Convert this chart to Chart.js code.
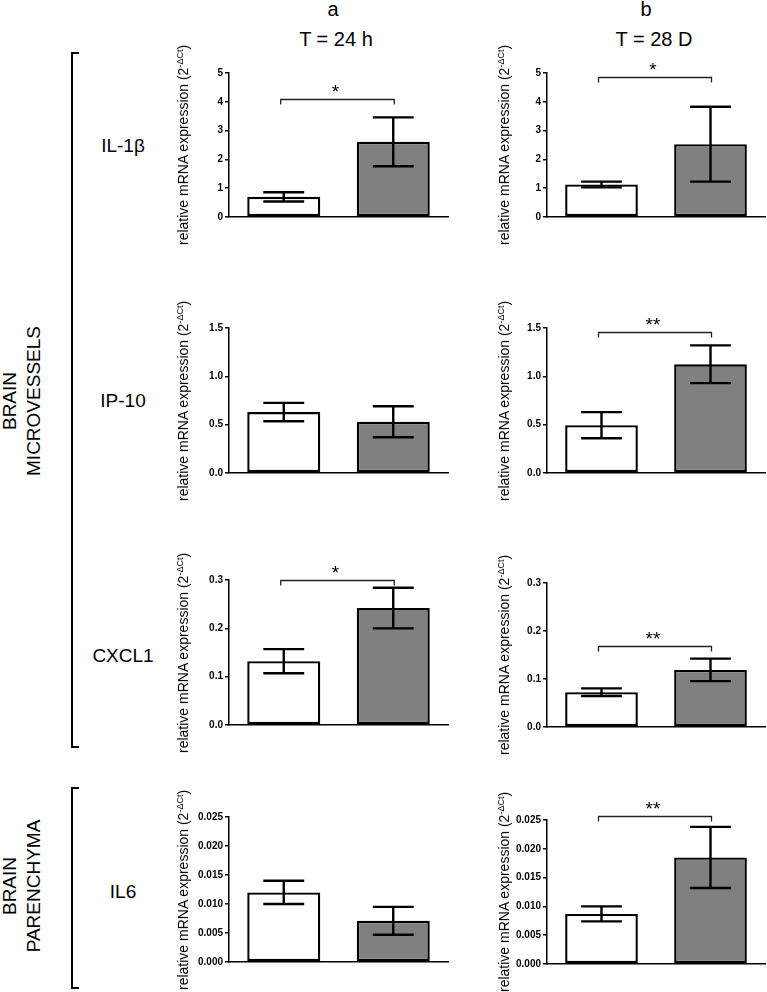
<!DOCTYPE html>
<html>
<head>
<meta charset="utf-8">
<script src="https://cdn.jsdelivr.net/npm/chart.js@4.4.0/dist/chart.umd.min.js"></script>
<style>
  body { margin: 0; width: 767px; height: 992px; position: relative; background: #fff;
         font-family: "Liberation Sans", Arial, sans-serif; color: #000; overflow: hidden; }
  .lbl { position: absolute; transform: translate(-50%, -50%); line-height: 1; white-space: nowrap; }
  .rot { position: absolute; transform: translate(-50%, -50%) rotate(-90deg); white-space: nowrap; text-align: center; }
  .ytitle { font-size: 14px; line-height: 1; }
  .ytitle sup { font-size: 9px; vertical-align: 5px; line-height: 0; }
  .group { font-size: 19px; line-height: 24px; }
  .bracket { position: absolute; border: 2px solid #000; border-right: none; width: 8px; box-sizing: border-box; }
  canvas { position: absolute; }
</style>
</head>
<body>
<div class="bracket" style="left:71px; top:52px; height:696px;"></div>
<div class="bracket" style="left:71px; top:787px; height:202px;"></div>
<div class="rot group" style="left:22px; top:401px;">BRAIN<br>MICROVESSELS</div>
<div class="rot group" style="left:22px; top:886px;">BRAIN<br>PARENCHYMA</div>

<script>
// gene rows, time point columns
const genes = ['IL-1β', 'IP-10', 'CXCL1', 'IL6'];
const panelLetters = ['a', 'b'];
const timePoints = ['T = 24 h', 'T = 28 D'];
const groups = ['control', 'treated'];

// mean and error per gene: [control, treated]
const means24h  = [[0.70, 2.61], [0.63, 0.53], [0.132, 0.242], [0.0120, 0.0071]];
const errors24h = [[0.16, 0.85], [0.095, 0.16], [0.025, 0.042], [0.0020, 0.0024]];
const means28d  = [[1.13, 2.53], [0.495, 1.125], [0.0725, 0.119], [0.0087, 0.0185]];
const errors28d = [[0.10, 1.30], [0.135, 0.195], [0.008, 0.0235], [0.0013, 0.0053]];

// significance marks and the value where the bracket sits
const sigMarks24h  = ['*', '', '*', ''];
const sigLevels24h = [4.1, null, 0.30, null];
const sigMarks28d  = ['*', '**', '**', '**'];
const sigLevels28d = [4.85, 1.455, 0.169, 0.0257];

// y axis per gene
const yMaxes = [5, 1.5, 0.3, 0.025];
const ySteps = [1, 0.5, 0.1, 0.005];
const yDecimals = [0, 1, 1, 3];

// layout (page pixels)
const plotLeft = [229, 547];
const plotRight = [448, 765];
const plotTop = [[73, 328, 580, 817], [73, 328, 583, 820]];
const plotBottom = [[217, 473, 725, 962], [217, 473, 727, 964]];
const letterX = [333, 646];
const timeX = [336, 654];
const titleX = [183, 504];
const geneY = [145, 400, 655, 891];

function addLabel(html, cls, x, y, css) {
    const d = document.createElement('div');
    d.className = cls;
    d.innerHTML = html;
    d.style.left = x + 'px';
    d.style.top = y + 'px';
    if (css) d.style.cssText += css;
    document.body.appendChild(d);
}

for (let c = 0; c < 2; c++) {
    addLabel(panelLetters[c], 'lbl', letterX[c], 9, 'font-size:20px;');
    addLabel(timePoints[c], 'lbl', timeX[c], 39, 'font-size:20px;');
}
for (let r = 0; r < genes.length; r++) {
    addLabel(genes[r], 'lbl', 123, geneY[r], 'font-size:19px;');
}

function makeOverlay(errors, sigLevel, sigMark) {
    return {
        id: 'overlay',
        afterDatasetsDraw(chart) {
            const ctx = chart.ctx;
            const xs = chart.scales.x;
            const ys = chart.scales.y;
            const meta = chart.getDatasetMeta(0);
            const means = chart.data.datasets[0].data;
            ctx.save();
            ctx.strokeStyle = '#000';
            ctx.lineWidth = 2.4;
            meta.data.forEach((bar, i) => {
                const x = bar.x;
                const half = bar.width * 0.28;
                const yHi = ys.getPixelForValue(means[i] + errors[i]);
                const yLo = ys.getPixelForValue(means[i] - errors[i]);
                ctx.beginPath();
                ctx.moveTo(x, yHi); ctx.lineTo(x, yLo);
                ctx.moveTo(x - half, yHi); ctx.lineTo(x + half, yHi);
                ctx.moveTo(x - half, yLo); ctx.lineTo(x + half, yLo);
                ctx.stroke();
            });
            if (sigLevel !== null) {
                const x1 = xs.getPixelForValue(0) - 3;
                const x2 = xs.getPixelForValue(1) + 1;
                const y = Math.round(ys.getPixelForValue(sigLevel)) + 0.5;
                ctx.lineWidth = 1.3;
                ctx.strokeStyle = '#222';
                ctx.beginPath();
                ctx.moveTo(x1, y + 5); ctx.lineTo(x1, y); ctx.lineTo(x2, y); ctx.lineTo(x2, y + 5);
                ctx.stroke();
                ctx.fillStyle = '#000';
                ctx.font = '19px "Liberation Sans", Arial, sans-serif';
                ctx.textAlign = 'center';
                ctx.textBaseline = 'alphabetic';
                ctx.fillText(sigMark, (x1 + x2) / 2 - 2, y - 2);
            }
            ctx.restore();
        }
    };
}

function drawPanel(col, row, means, errors, sigLevel, sigMark) {
    const L = plotLeft[col], R = plotRight[col];
    const T = plotTop[col][row], B = plotBottom[col][row];
    const cx = L - 50, cy = T - 50;
    const w = R - L + 52, h = B - T + 62;
    const canvas = document.createElement('canvas');
    canvas.width = w;
    canvas.height = h;
    canvas.style.left = cx + 'px';
    canvas.style.top = cy + 'px';
    document.body.appendChild(canvas);

    addLabel('relative mRNA expression (2<sup>-ΔCt</sup>)', 'rot ytitle', titleX[col], (T + B) / 2);

    const dec = yDecimals[row];
    new Chart(canvas.getContext('2d'), {
        type: 'bar',
        data: {
            labels: groups,
            datasets: [{
                data: means,
                backgroundColor: ['#ffffff', '#808080'],
                borderColor: '#000',
                borderWidth: 2.4,
                borderSkipped: false,
                barPercentage: 0.667,
                categoryPercentage: 1
            }]
        },
        options: {
            responsive: false,
            animation: false,
            layout: { padding: { left: 10, right: 2, top: 50, bottom: 12 } },
            plugins: { legend: { display: false }, tooltip: { enabled: false } },
            scales: {
                x: {
                    grid: { display: false },
                    ticks: { display: false },
                    border: { display: true, color: '#000', width: 1.5 },
                    afterFit: (scale) => { scale.height = 0; }
                },
                y: {
                    min: 0,
                    max: yMaxes[row],
                    grid: { display: true, drawOnChartArea: false, drawTicks: true, tickLength: 4, color: '#000', lineWidth: 1.5 },
                    border: { display: true, color: '#000', width: 1.5 },
                    ticks: {
                        stepSize: ySteps[row],
                        padding: 2,
                        color: '#000',
                        font: { family: '"Liberation Sans", Arial, sans-serif', size: 10, weight: 'bold' },
                        callback: (v) => Number(v).toFixed(dec)
                    },
                    afterFit: (scale) => { scale.width = 40; }
                }
            }
        },
        plugins: [makeOverlay(errors, sigLevel, sigMark)]
    });
}

for (let r = 0; r < genes.length; r++) {
    drawPanel(0, r, means24h[r], errors24h[r], sigLevels24h[r], sigMarks24h[r]);
    drawPanel(1, r, means28d[r], errors28d[r], sigLevels28d[r], sigMarks28d[r]);
}
</script>
</body>
</html>
